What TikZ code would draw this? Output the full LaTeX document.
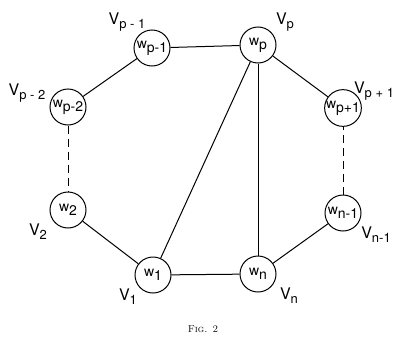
\documentclass[tikz,border=0pt]{standalone}
\usepackage{fontspec}
\setsansfont{TeX Gyre Heros}
\newcommand{\wlab}[2]{{\sffamily\fontsize{14}{14}\selectfont #1\raisebox{-4pt}{#2}}}
\newcommand{\vlab}[2]{{\sffamily\fontsize{16}{16}\selectfont #1\raisebox{-4pt}{\fontsize{13}{13}\selectfont #2}}}
\begin{document}
\begin{tikzpicture}[x=1pt,y=-1pt,
  vert/.style={circle,draw,line width=1pt,minimum size=36pt,inner sep=0pt},
  edge/.style={line width=1pt},
  dashedge/.style={line width=1pt,dash pattern=on 8pt off 5pt},
  lab/.style={inner sep=0pt}]
\useasboundingbox (0,0) rectangle (401,340);
\node[vert] (pm1) at (152,48) {\wlab{w}{p-1}};
\node[vert] (p) at (258,45) {\wlab{w}{p}};
\node[vert] (pm2) at (68,107) {\wlab{w}{p-2}};
\node[vert] (pp1) at (343,108) {\wlab{w}{p+1}};
\node[vert] (w2) at (68,210) {\wlab{w}{2}};
\node[vert] (w1) at (153,275) {\wlab{w}{1}};
\node[vert] (wn) at (258,274) {\wlab{w}{n}};
\node[vert] (nm1) at (343,213) {\wlab{w}{n-1}};
\node[lab] (lpm1) at (127,22) {\vlab{V}{p - 1}};
\node[lab] (lp) at (285,22) {\vlab{V}{p}};
\node[lab] (lpm2) at (27,93) {\vlab{V}{p - 2}};
\node[lab] (lpp1) at (374,91) {\vlab{V}{p + 1}};
\node[lab] (l2) at (38,232) {\vlab{V}{2}};
\node[lab] (l1) at (128,297) {\vlab{V}{1}};
\node[lab] (ln) at (289,296) {\vlab{V}{n}};
\node[lab] (lnm1) at (376,235) {\vlab{V}{n-1}};
\node[lab] (cap) at (203,329) {\fontsize{10}{10}\selectfont\textsc{Fig. 2}};
\draw[edge] (pm1) -- (p);
\draw[edge] (pm1) -- (pm2);
\draw[dashedge] (pm2) -- (w2);
\draw[edge] (w2) -- (w1);
\draw[edge] (w1) -- (wn);
\draw[edge] (wn) -- (nm1);
\draw[dashedge] (nm1) -- (pp1);
\draw[edge] (pp1) -- (p);
\draw[edge] (p) -- (w1);
\draw[edge] (p) -- (wn);
\end{tikzpicture}
\end{document}
